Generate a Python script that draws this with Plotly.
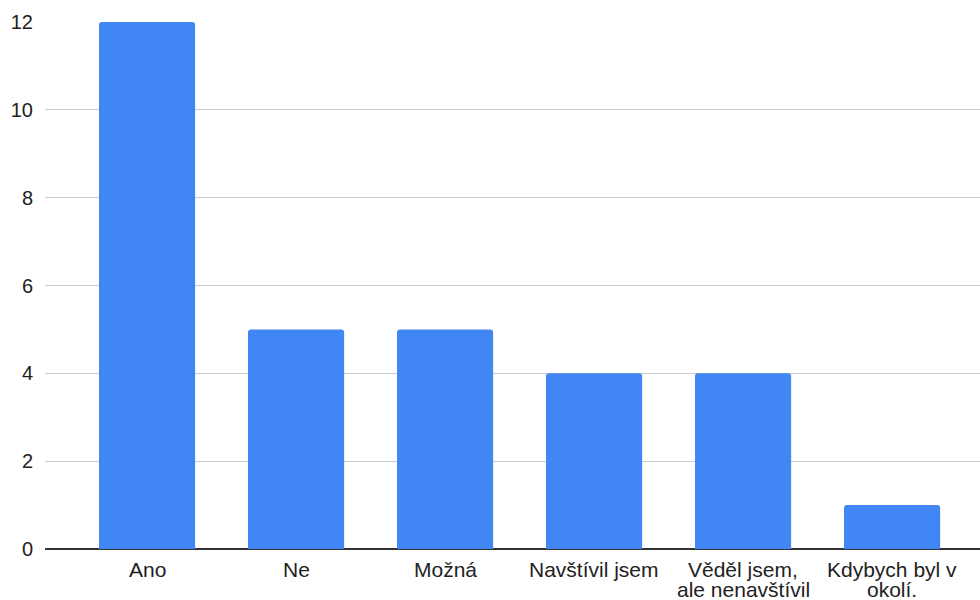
import plotly.graph_objects as go

categories = ["Ano", "Ne", "Možná", "Navštívil jsem", "Věděl jsem,<br>ale nenavštívil", "Kdybych byl v<br>okolí."]
counts = [12, 5, 5, 4, 4, 1]
y_ticks = [0, 2, 4, 6, 8, 10, 12]

LABEL_FONT = dict(family="Liberation Sans, Arial, sans-serif", size=21, color="#222222")

fig = go.Figure(
    go.Bar(
        x=categories,
        y=counts,
        marker=dict(color="#4285F4", line=dict(width=0)),
        width=0.645,
    )
)

# category labels: one annotation per text line for tight line spacing
for cat in categories:
    for i, line in enumerate(cat.split("<br>")):
        fig.add_annotation(
            x=cat, y=0, xref="x", yref="y",
            text=line, showarrow=False,
            xanchor="center", yanchor="middle",
            yshift=-20 - 20.5 * i,
            font=LABEL_FONT,
        )

fig.update_layout(
    width=980,
    height=600,
    margin=dict(l=45, r=0, t=22, b=51),
    plot_bgcolor="white",
    paper_bgcolor="white",
    showlegend=False,
    barcornerradius=3,
    font=dict(family="Liberation Sans, Arial, sans-serif", size=20, color="#222222"),
)

fig.update_xaxes(
    type="category",
    range=[-0.685, 5.59],
    showgrid=False,
    showline=False,
    ticks="",
    showticklabels=False,
    automargin=False,
)

fig.update_yaxes(
    range=[0, 12],
    tickvals=y_ticks,
    ticktext=[str(v) for v in y_ticks],
    showgrid=True,
    gridcolor="#cccccc",
    gridwidth=1,
    zeroline=True,
    zerolinecolor="#333333",
    zerolinewidth=1.5,
    showline=False,
    ticks="",
    ticklabelstandoff=11,
    automargin=False,
    tickfont=dict(size=20, color="#222222"),
)

fig.write_html("out.html")
